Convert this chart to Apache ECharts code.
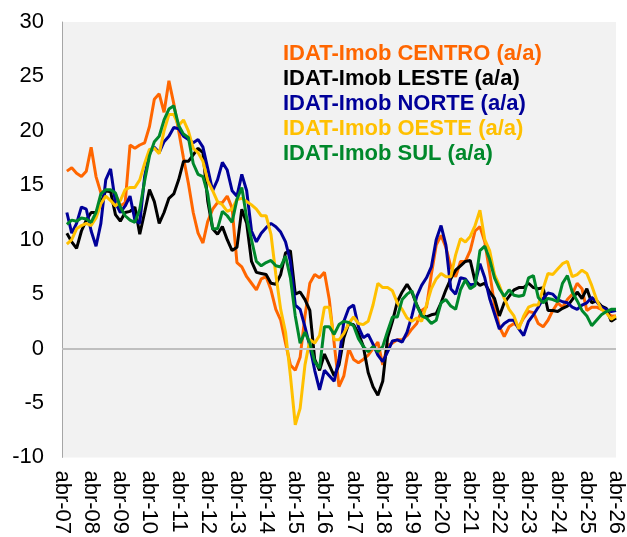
<!DOCTYPE html>
<html>
<head>
<meta charset="utf-8">
<script src="https://cdn.jsdelivr.net/npm/echarts@6/dist/echarts.min.js"></script>
<style>
  html, body { margin: 0; padding: 0; background: #fff; }
  #chart { width: 627px; height: 537px; }
</style>
</head>
<body>
<div id="chart"></div>
<script>

// bimonthly points, abr-07 .. abr-26 (first point has no value)
var months = ['abr', 'jun', 'ago', 'out', 'dez', 'fev'];
var firstYear = 2007, lastYear = 2026;

var centro = ['-',
	16.3, 16.6, 16.1, 15.8, 16.3, 18.5, 15.8, 14.3, 14.5, 14.5, 14.2, 13.1, 13.4, 18.7, 18.4, 18.7, 18.9, 20.4, 22.9, 23.4,
	21.7, 24.6, 22.5, 20.0, 17.5, 15.2, 12.5, 10.6, 9.7, 11.7, 12.8, 13.4, 13.4, 14.0, 12.9, 7.9, 7.5, 6.6, 6.0, 5.4,
	6.4, 6.6, 5.4, 3.6, 2.6, 0.5, -1.5, -2.0, -0.8, 3.0, 6.0, 6.8, 6.5, 7.0, 4.5, 0.5, -3.5, -2.5, 0.0, -1.0,
	-1.3, -1.0, -0.6, 0.0, 0.6, -1.5, 0.3, 0.5, 0.8, 0.8, 1.2, 1.8, 2.3, 3.5, 3.8, 6.8, 9.5, 10.4, 9.3, 7.5,
	6.6, 8.0, 8.0, 9.0, 10.8, 11.2, 9.8, 7.0, 4.0, 2.0, 1.1, 2.0, 2.3, 2.0, 2.8, 3.4, 3.3, 2.3, 2.0, 2.6,
	3.5, 4.2, 3.8, 4.5, 5.0, 6.0, 5.5, 3.5, 3.8, 3.8, 3.6, 3.4, 3.0, 3.0];

var leste = ['-',
	10.6, 9.8, 9.2, 10.8, 11.8, 12.5, 12.5, 13.4, 14.5, 14.4, 12.3, 11.7, 12.5, 12.6, 13.0, 10.5, 12.5, 14.6, 13.5, 11.5,
	12.5, 13.8, 14.2, 15.5, 17.2, 17.2, 17.8, 18.4, 18.0, 13.5, 11.0, 10.5, 11.2, 10.0, 9.0, 9.3, 12.8, 11.5, 8.0, 7.0,
	6.9, 6.8, 6.0, 5.9, 6.8, 8.8, 9.0, 5.0, 5.2, 4.5, 3.5, -1.0, -2.0, -0.5, -1.5, -2.5, -1.5, 1.0, 2.3, 2.2,
	1.4, 0.2, -2.2, -3.5, -4.3, -3.0, 1.0, 2.5, 4.3, 5.2, 5.9, 5.2, 4.0, 3.1, 2.9, 3.1, 3.2, 4.2, 5.4, 6.4,
	7.2, 7.6, 8.0, 8.1, 6.2, 5.8, 6.0, 5.2, 4.6, 3.0, 4.2, 4.8, 5.4, 5.6, 5.6, 6.0, 5.6, 5.5, 5.6, 3.5,
	3.5, 3.4, 3.7, 3.9, 4.5, 5.2, 4.6, 5.5, 4.2, 4.4, 3.9, 3.7, 2.5, 2.8];

var norte = ['-',
	12.5, 10.6, 11.5, 13.0, 12.8, 10.8, 9.4, 11.5, 15.5, 16.5, 13.4, 12.5, 13.1, 14.0, 11.8, 11.5, 15.8, 18.0, 18.5, 18.0,
	19.0, 19.5, 20.3, 20.2, 19.5, 19.2, 18.9, 19.2, 18.5, 16.5, 14.5, 15.5, 17.1, 16.4, 14.5, 14.0, 16.0, 14.5, 10.8, 9.8,
	10.6, 11.1, 11.5, 11.2, 10.7, 9.8, 8.0, 4.0, 3.6, 2.0, 0.2, -2.0, -3.8, -2.0, -2.5, -3.0, -1.0, 2.5, 3.7, 4.0,
	2.0, 1.0, 1.3, 0.4, -0.6, -1.2, -0.3, 0.7, 0.8, 0.6, 1.5, 3.0, 4.8, 5.8, 6.5, 7.5, 10.0, 11.3, 9.5, 5.5,
	5.0, 6.5, 6.4, 5.8, 6.0, 7.8, 6.5, 4.6, 3.2, 1.8, 2.3, 2.6, 2.6, 1.8, 1.2, 2.5, 3.1, 3.8, 4.6, 5.1,
	5.0, 4.5, 4.3, 4.2, 3.8, 3.6, 4.0, 4.2, 4.7, 4.3, 3.8, 3.6, 3.4, 3.5];

var oeste = ['-',
	9.6, 10.0, 11.0, 11.3, 11.5, 11.3, 12.0, 13.3, 14.0, 13.6, 13.1, 13.6, 14.6, 14.8, 14.8, 15.5, 17.0, 18.3, 18.4, 17.9,
	20.0, 21.5, 21.5, 20.5, 21.0, 20.0, 18.4, 18.0, 17.2, 15.4, 14.5, 13.5, 13.2, 12.6, 12.8, 13.7, 13.8, 13.5, 13.2, 12.8,
	12.2, 12.2, 10.5, 6.8, 3.6, 1.5, -2.5, -7.0, -5.5, -1.5, 0.8, 0.5, 1.2, 3.8, 3.8, 0.8, 0.8, 1.4, 2.3, 2.9,
	2.3, 2.2, 2.5, 4.0, 6.0, 5.6, 5.6, 5.3, 4.2, 3.6, 2.8, 2.5, 2.8, 2.5, 4.0, 5.5, 6.4, 6.9, 6.6, 6.6,
	8.6, 10.1, 9.8, 10.3, 11.3, 12.7, 10.0, 9.0, 6.8, 5.8, 4.6, 3.6, 3.0, 1.8, 3.0, 3.8, 4.0, 4.0, 5.5, 6.9,
	6.8, 7.3, 7.8, 8.0, 6.6, 6.8, 7.2, 6.9, 5.8, 4.5, 3.6, 3.3, 2.7, 3.0];

var sul = ['-',
	11.4, 11.8, 11.7, 12.0, 11.9, 11.6, 12.5, 14.2, 14.6, 14.6, 14.3, 13.0, 12.2, 11.8, 11.6, 12.8, 15.4, 17.7, 19.0, 19.5,
	21.0, 22.0, 22.3, 20.5, 19.7, 19.4, 17.0, 16.0, 15.8, 14.2, 11.0, 11.0, 12.6, 12.2, 11.6, 13.7, 14.8, 12.0, 10.0, 8.0,
	7.6, 7.9, 8.1, 7.6, 7.5, 8.5, 6.5, 3.0, 0.5, 1.5, 0.5, -1.2, -1.8, 2.0, 2.0, 1.3, 2.2, 2.5, 2.4, 2.1,
	0.9, 0.2, -0.3, 0.2, -0.3, 0.2, 1.6, 2.9, 2.9, 4.5, 5.0, 5.3, 4.0, 3.0, 2.8, 2.3, 2.6, 4.2, 4.5, 3.9,
	3.6, 5.4, 6.3, 5.5, 5.8, 9.0, 9.4, 8.2, 6.5, 5.5, 4.8, 5.4, 4.9, 4.8, 4.9, 6.5, 6.7, 4.7, 4.2, 4.6,
	4.5, 4.3, 6.0, 6.7, 5.2, 4.4, 3.5, 3.0, 2.1, 2.6, 3.1, 3.4, 3.6, 3.6];

var names = ['IDAT-Imob CENTRO (a/a)', 'IDAT-Imob LESTE (a/a)', 'IDAT-Imob NORTE (a/a)', 'IDAT-Imob OESTE (a/a)', 'IDAT-Imob SUL (a/a)'];
var colors = ['#FF6600', '#000000', '#000099', '#FFC000', '#00882B'];
var values = [centro, leste, norte, oeste, sul];

// category labels
var categories = [];
for (var y = firstYear; y <= lastYear; y++) {
	for (var m = 0; m < months.length; m++) {
		if (y === lastYear && m > 0) break;
		var yy = (m < 5 ? y : y + 1) % 100;
		categories.push(months[m] + '-' + (yy < 10 ? '0' + yy : yy));
	}
}

values.forEach(function (v, i) {
	if (v.length !== categories.length) {
		throw new Error(names[i] + ' has ' + v.length + ' points, expected ' + categories.length);
	}
});

var font = "'Liberation Sans', Arial, sans-serif";

var series = values.map(function (v, i) {
	var s = {
		name: names[i],
		type: 'line',
		data: v,
		symbol: 'none',
		lineStyle: { color: colors[i], width: 3 },
		itemStyle: { color: colors[i] },
		emphasis: { disabled: true }
	};
	if (i === 0) {
		// zero line under the series
		s.markLine = {
			silent: true,
			symbol: ['none', 'none'],
			label: { show: false },
			lineStyle: { color: '#BFBFBF', width: 2, type: 'solid' },
			data: [{ yAxis: 0 }]
		};
	}
	return s;
});

var chart = echarts.init(document.getElementById('chart'));

chart.setOption({
	animation: false,
	textStyle: { fontFamily: font },
	grid: {
		left: 62,
		right: 10,
		top: 22,
		bottom: 78,
		show: true,
		backgroundColor: '#F2F2F2',
		borderWidth: 0
	},
	legend: {
		orient: 'vertical',
		left: 273,
		top: 38,
		itemWidth: 0,
		itemHeight: 0,
		itemGap: 3,
		selectedMode: false,
		icon: 'rect',
		textStyle: { fontSize: 22, fontWeight: 'bold', lineHeight: 22, fontFamily: font },
		data: names.map(function (n, i) {
			return { name: n, textStyle: { color: colors[i] } };
		})
	},
	xAxis: {
		type: 'category',
		boundaryGap: false,
		data: categories,
		axisLine: { show: false, onZero: false },
		axisTick: { show: false },
		splitLine: { show: false },
		axisLabel: {
			interval: 5,
			rotate: -90,
			margin: 13,
			fontSize: 22,
			color: '#000',
			fontFamily: font
		}
	},
	yAxis: {
		type: 'value',
		min: -10,
		max: 30,
		interval: 5,
		axisLine: { show: true, lineStyle: { color: '#A6A6A6', width: 1 } },
		axisTick: { show: false },
		splitLine: { show: false },
		axisLabel: { fontSize: 22, color: '#000', margin: 18, fontFamily: font }
	},
	series: series
});
</script>
</body>
</html>
